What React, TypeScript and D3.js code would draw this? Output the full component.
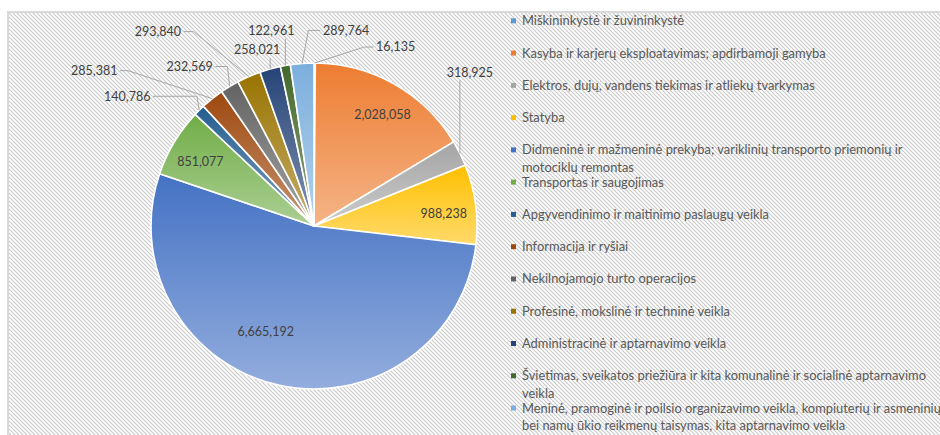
import React from 'react';
import * as d3 from 'd3';

// ---- data ----
const categories: string[] = [
  'Miškininkystė ir žuvininkystė',
  'Kasyba ir karjerų eksploatavimas; apdirbamoji gamyba',
  'Elektros, dujų, vandens tiekimas ir atliekų tvarkymas',
  'Statyba',
  'Didmeninė ir mažmeninė prekyba; variklinių transporto priemonių ir\nmotociklų remontas',
  'Transportas ir saugojimas',
  'Apgyvendinimo ir maitinimo paslaugų veikla',
  'Informacija ir ryšiai',
  'Nekilnojamojo turto operacijos',
  'Profesinė, mokslinė ir techninė veikla',
  'Administracinė ir aptarnavimo veikla',
  'Švietimas, sveikatos priežiūra ir kita komunalinė ir socialinė aptarnavimo\nveikla',
  'Meninė, pramoginė ir poilsio organizavimo veikla, kompiuterių ir asmeninių\nbei namų ūkio reikmenų taisymas, kita aptarnavimo veikla',
];
const values: number[] = [
  16135, 2028058, 318925, 988238, 6665192, 851077, 140786, 285381, 232569, 293840, 258021, 122961, 289764,
];
const colors: string[] = [
  '#5B9BD5', '#ED7D31', '#A5A5A5', '#FFC000', '#4472C4', '#70AD47',
  '#255E91', '#9E480E', '#636363', '#997300', '#264478', '#43682B', '#7CAFDD',
];

// ---- layout ----
const W = 940;
const H = 435;
const CX = 314;
const CY = 226;
const R = 163;

// inside labels: radius factor and angle shift (deg)
const insideLabels: Record<number, { rf: number; shift: number }> = {
  1: { rf: 0.8, shift: 2 },
  3: { rf: 0.8, shift: 2 },
  4: { rf: 0.71, shift: 12 },
  5: { rf: 0.8, shift: -1.5 },
};
// outside labels: offset of label centre from arc point, leader type, hook length
type Out = { dx: number; dy: number; type: 'right' | 'left' | 'up'; hook?: number };
const outsideLabels: Record<number, Out> = {
  0: { dx: 81, dy: -16, type: 'right', hook: 9 },
  12: { dx: 44, dy: -33, type: 'right', hook: 12 },
  11: { dx: -14, dy: -35, type: 'up' },
  10: { dx: -13, dy: -19, type: 'up' },
  9: { dx: -91, dy: -45, type: 'left', hook: 10 },
  8: { dx: -40, dy: -20, type: 'left', hook: 12 },
  7: { dx: -118, dy: -28, type: 'left', hook: 8 },
  6: { dx: -72, dy: -14, type: 'left', hook: 44 },
  2: { dx: 10, dy: -81, type: 'up' },
};

const LEG_X = 511;
const LEG_Y0 = 20.8;
const LEG_STEP = 32.27;
const LEG_LINE = 17.5;

const fmt = d3.format(',');
const LABEL_FONT = 'Lato, "Open Sans", sans-serif';

function tint(c: string, k: number) {
  const rgb = d3.rgb(c);
  return d3.rgb(rgb.r + (255 - rgb.r) * k, rgb.g + (255 - rgb.g) * k, rgb.b + (255 - rgb.b) * k).formatHex();
}

function textW(s: string) {
  let w = 0;
  for (const ch of s) w += ch === ',' ? 2.9 : 7.1;
  return w;
}

export default function App() {
  const arcs = d3.pie<number>().sort(null).startAngle(0).endAngle(2 * Math.PI)(values);
  const arcGen = d3.arc<d3.PieArcDatum<number>>().innerRadius(0).outerRadius(R);
  const pt = (a: number, r: number): [number, number] => [CX + r * Math.sin(a), CY - r * Math.cos(a)];

  return (
    <svg width={W} height={H} style={{ position: 'absolute', left: 0, top: 0, background: '#fff' }}>
      <defs>
        <pattern id="hatch" width="4" height="4" patternUnits="userSpaceOnUse">
          <rect width="4" height="4" fill="#ffffff" />
          <path d="M-1,-1 L5,5 M-1,3 L1,5 M3,-1 L5,1" stroke="#c9c9c9" strokeWidth="1.1" />
        </pattern>
        {colors.map((c, i) => (
          <linearGradient key={i} id={`g${i}`} x1="0" y1="0" x2="0" y2="1">
            <stop offset="0" stopColor={c} />
            <stop offset="1" stopColor={tint(c, 0.42)} />
          </linearGradient>
        ))}
      </defs>
      <rect x={0} y={0} width={W} height={H} fill="#fff" />
      <rect x={8} y={12} width={W + 20} height={H + 20} fill="url(#hatch)" stroke="#d9d9d9" strokeWidth={2} />

      <g transform={`translate(${CX},${CY})`}>
        {arcs.map((a, i) => (
          <path key={i} d={arcGen(a) || ''} fill={`url(#g${i})`} stroke="#ffffff" strokeWidth={1.6} strokeLinejoin="round" />
        ))}
      </g>

      {arcs.map((a, i) => {
        const mid = (a.startAngle + a.endAngle) / 2;
        const label = fmt(values[i]);
        if (insideLabels[i]) {
          const c = insideLabels[i];
          const [x, y] = pt(mid + (c.shift * Math.PI) / 180, R * c.rf);
          return (
            <text key={`l${i}`} x={x} y={y} dy="0.35em" textAnchor="middle" fontFamily={LABEL_FONT} fontSize={12.5} fill="#404040">
              {label}
            </text>
          );
        }
        const o = outsideLabels[i];
        if (!o) return null;
        const [ax, ay] = pt(mid, R);
        const lx = ax + o.dx;
        const ly = ay + o.dy;
        const w = textW(label);
        let pts: [number, number][];
        if (o.type === 'right') {
          const ex = lx - w / 2 - 3;
          pts = [[ax, ay], [ex - (o.hook || 10), ly], [ex, ly]];
        } else if (o.type === 'left') {
          const ex = lx + w / 2 + 3;
          pts = [[ax, ay], [ex + (o.hook || 10), ly], [ex, ly]];
        } else {
          pts = [[ax, ay], [ax, ly + 8]];
        }
        return (
          <g key={`l${i}`}>
            <path d={d3.line()(pts) || ''} fill="none" stroke="#a6a6a6" strokeWidth={1} />
            <text x={lx} y={ly} dy="0.35em" textAnchor="middle" fontFamily={LABEL_FONT} fontSize={12.5} fill="#404040">
              {label}
            </text>
          </g>
        );
      })}

      <g>
        {categories.map((c, i) => {
          const y = LEG_Y0 + i * LEG_STEP;
          const lines = c.split('\n');
          return (
            <g key={`leg${i}`}>
              <rect x={LEG_X} y={y - 2.5} width={5} height={5} fill={colors[i]} />
              <text x={LEG_X + 11} y={y} fontFamily={LABEL_FONT} fontSize={12.9} fill="#595959">
                {lines.map((ln, j) => (
                  <tspan key={j} x={LEG_X + 11} y={y + j * LEG_LINE} dy="0.35em">
                    {ln}
                  </tspan>
                ))}
              </text>
            </g>
          );
        })}
      </g>
    </svg>
  );
}
